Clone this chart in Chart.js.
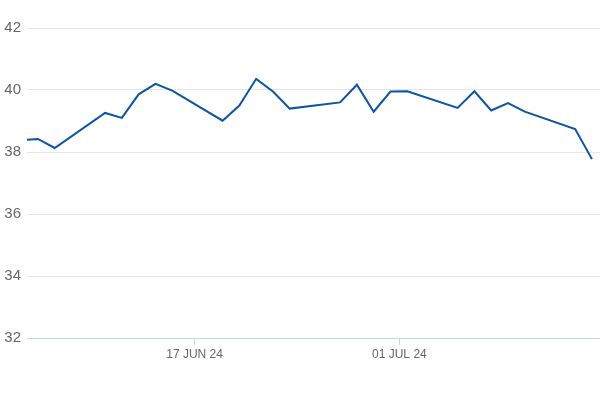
<!DOCTYPE html>
<html>
<head>
<meta charset="utf-8">
<script src="https://cdn.jsdelivr.net/npm/chart.js@4"></script>
<style>
  html, body { margin: 0; padding: 0; background: #fff; }
  #wrap { width: 600px; height: 400px; }
</style>
</head>
<body>
<div id="wrap"><canvas id="chart"></canvas></div>
<script>
// trading days, counted in calendar days from the Monday of the second week
const days = [-5, -4, -3, 0, 1, 2, 3, 4, 7, 8, 9, 10, 11, 14, 15, 16, 17, 18, 21, 22, 23, 24, 25, 28, 29];
const values = [38.38, 38.42, 38.13, 39.26, 39.1, 39.86, 40.2, 39.98, 39.01, 39.5, 40.36, 39.95, 39.4,
  39.6, 40.17, 39.3, 39.95, 39.96, 39.42, 39.96, 39.34, 39.58, 39.3, 38.74, 37.77];

// x axis labels as the reference places them
const tickDays = [5.33, 17.53];
const tickLabels = ["17 JUN 24", "01 JUL 24"];
const yTicks = [32, 34, 36, 38, 40, 42];

const points = days.map((d, i) => ({ x: d, y: values[i] }));

new Chart(document.getElementById("chart"), {
  type: "line",
  data: {
    datasets: [
      {
        data: points,
        borderColor: "#0d55a0",
        borderWidth: 2,
        pointRadius: 0,
        tension: 0,
      },
    ],
  },
  options: {
    responsive: true,
    maintainAspectRatio: false,
    animation: false,
    layout: { padding: { top: 28, right: 0, left: 0, bottom: 0 } },
    plugins: { legend: { display: false }, tooltip: { enabled: false } },
    scales: {
      x: {
        type: "linear",
        min: -4.65,
        max: 29.48,
        afterBuildTicks: (scale) => {
          scale.ticks = tickDays.map((v) => ({ value: v }));
        },
        afterFit: (scale) => {
          scale.height = 62;
        },
        ticks: {
          autoSkip: false,
          maxRotation: 0,
          padding: 2,
          color: "#666666",
          font: { family: "Liberation Sans", size: 12 },
          callback: (v, i) => tickLabels[i],
        },
        grid: {
          drawOnChartArea: false,
          drawTicks: true,
          tickLength: 7,
          color: "#ccd6eb",
        },
        border: { color: "#ccd6eb", width: 1 },
      },
      y: {
        min: 32,
        max: 42,
        afterBuildTicks: (scale) => {
          scale.ticks = yTicks.map((v) => ({ value: v }));
        },
        afterFit: (scale) => {
          scale.width = 27;
        },
        ticks: {
          padding: 6,
          color: "#666666",
          font: { family: "Liberation Sans", size: 15 },
        },
        grid: { color: "#e6e6e6", drawTicks: false },
        border: { display: false },
      },
    },
  },
});
</script>
</body>
</html>
